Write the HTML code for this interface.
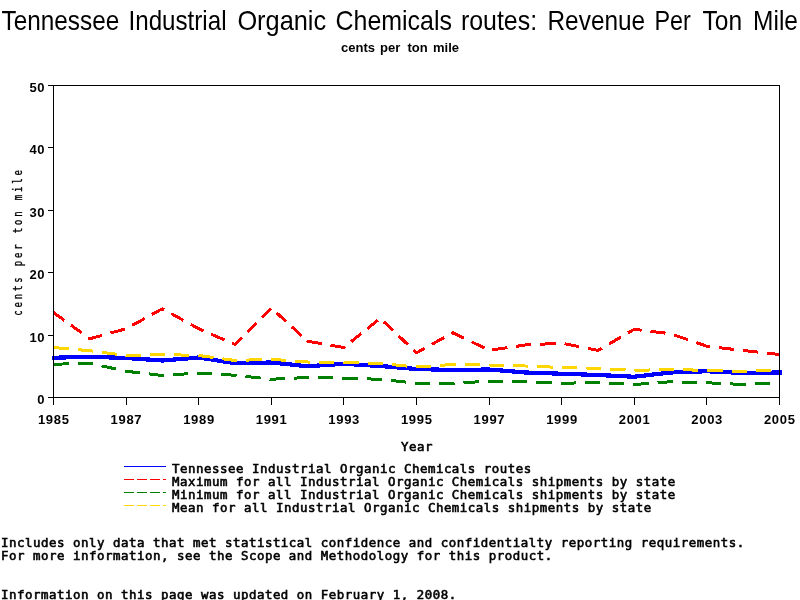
<!DOCTYPE html>
<html lang="en">
<head>
<meta charset="utf-8">
<title>Tennessee Industrial Organic Chemicals routes: Revenue Per Ton Mile</title>
<style>
html,body{margin:0;padding:0;background:#fff;}
body{width:800px;height:600px;overflow:hidden;position:relative;}
svg{position:absolute;left:0;top:0;display:block;will-change:transform;}
text{white-space:pre;}
.title{font-family:"Liberation Sans", "DejaVu Sans", sans-serif;font-size:27.2px;fill:#000;}
.sub{font-family:"Liberation Sans", "DejaVu Sans", sans-serif;font-size:13px;font-weight:bold;fill:#000;}
.tick{font-family:"Liberation Sans", "DejaVu Sans", sans-serif;font-size:13px;font-weight:bold;fill:#000;letter-spacing:0.7px;}
.mono{font-family:"DejaVu Sans Mono", "Liberation Mono", monospace;font-size:12.4px;font-weight:normal;fill:#000;stroke:#000;stroke-width:0.6px;letter-spacing:0.535px;}
.ylab{font-family:"DejaVu Sans Mono", "Liberation Mono", monospace;font-size:12.4px;font-weight:normal;fill:#000;letter-spacing:4.0px;stroke:#000;stroke-width:0.35px;}
.ax{stroke:#000;stroke-width:1;fill:none;shape-rendering:crispEdges;}
.ser{fill:none;stroke-linejoin:round;shape-rendering:crispEdges;}
</style>
</head>
<body>
<svg width="800" height="600" viewBox="0 0 800 600">
<rect x="0" y="0" width="800" height="600" fill="#ffffff"/>
<g class="title">
<text transform="translate(1.50,30) scale(0.8952,1)">Tennessee</text>
<text transform="translate(128.50,30) scale(0.8883,1)">Industrial</text>
<text transform="translate(237.40,30) scale(0.9326,1)">Organic</text>
<text transform="translate(335.50,30) scale(0.9181,1)">Chemicals</text>
<text transform="translate(460.90,30) scale(0.9160,1)">routes:</text>
<text transform="translate(547.50,30) scale(0.8975,1)">Revenue</text>
<text transform="translate(654.50,30) scale(0.8600,1)">Per</text>
<text transform="translate(702.50,30) scale(0.9024,1)">Ton</text>
<text transform="translate(753.10,30) scale(0.9003,1)">Mile</text>
</g>
<g class="sub">
<text x="341.00" y="52">cents</text>
<text x="380.00" y="52">per</text>
<text x="407.50" y="52">ton</text>
<text x="433.00" y="52">mile</text>
</g>
<polyline class="ser" stroke="#0000ff" stroke-width="4.2" points="51.50,357.75 53.50,357.75 89.80,356.75 126.10,358.00 162.40,360.50 198.70,357.50 235.00,363.25 271.30,362.50 307.60,366.25 343.90,363.75 380.20,366.00 416.50,369.00 452.80,370.00 489.10,369.50 525.40,372.50 561.70,373.75 598.00,375.00 634.30,376.75 670.60,372.50 706.90,371.25 743.20,373.00 779.50,372.50 781.50,372.50"/>
<path class="ser" stroke="#ff0000" stroke-width="3" d="M53.50 312.50 L64.44 320.41 M70.88 325.07 L81.82 332.98 M88.27 337.64 L89.80 338.75 L102.13 335.35 M110.57 333.03 L124.91 329.08 M132.31 325.33 L144.58 318.57 M151.80 314.59 L162.40 308.75 L164.07 309.67 M171.30 313.65 L183.57 320.41 M190.79 324.39 L198.70 328.75 L203.39 330.79 M211.16 334.16 L224.36 339.88 M232.13 343.26 L235.00 344.50 L242.10 337.37 M247.43 332.00 L256.50 322.88 M261.84 317.51 L270.90 308.40 M276.54 312.80 L286.15 321.61 M291.81 326.79 L301.43 335.60 M307.09 340.78 L307.60 341.25 L321.71 343.68 M330.48 345.19 L343.90 347.50 L344.93 346.67 M351.03 341.77 L361.38 333.44 M367.48 328.53 L377.84 320.20 M383.59 321.53 L392.97 330.47 M398.49 335.73 L407.87 344.67 M413.39 349.94 L416.50 352.90 L424.68 348.35 M431.88 344.34 L444.10 337.54 M451.30 333.53 L452.80 332.70 L464.03 338.14 M471.56 341.80 L484.36 348.00 M492.38 349.82 L507.39 347.63 M516.23 346.34 L525.40 345.00 L531.34 344.71 M540.33 344.26 L555.59 343.50 M564.49 343.75 L579.27 346.68 M587.97 348.41 L598.00 350.40 L601.87 348.15 M608.95 344.04 L620.98 337.04 M628.06 332.93 L634.30 329.30 L641.57 330.19 M650.46 331.28 L665.55 333.13 M674.13 334.97 L688.00 339.74 M696.17 342.55 L706.90 346.25 L710.32 346.65 M719.22 347.69 L734.33 349.46 M743.23 350.50 L758.36 352.17 M767.27 353.15 L779.50 354.50"/>
<path class="ser" stroke="#008000" stroke-width="3" d="M53.50 364.25 L68.79 363.83 M77.79 363.58 L89.80 363.25 L92.95 363.94 M101.58 365.85 L116.25 369.08 M124.88 370.98 L126.10 371.25 L139.96 372.87 M148.85 373.91 L162.40 375.50 L163.98 375.39 M172.95 374.77 L188.18 373.72 M197.16 373.11 L198.70 373.00 L212.40 373.85 M221.38 374.41 L235.00 375.25 L236.61 375.43 M245.53 376.41 L260.66 378.08 M269.57 379.06 L271.30 379.25 L284.82 378.60 M293.81 378.16 L307.60 377.50 L309.08 377.53 M318.09 377.72 L333.38 378.03 M342.39 378.22 L343.90 378.25 L357.68 378.63 M366.68 378.88 L380.20 379.25 L381.96 379.44 M390.87 380.43 L406.00 382.09 M414.91 383.07 L416.50 383.25 L430.19 383.25 M439.20 383.25 L452.80 383.25 L454.50 383.16 M463.48 382.66 L478.74 381.82 M487.73 381.33 L489.10 381.25 L503.02 381.35 M512.03 381.41 L525.40 381.50 L527.33 381.59 M536.32 382.03 L551.59 382.76 M560.58 383.20 L561.70 383.25 L575.87 382.96 M584.88 382.77 L598.00 382.50 L600.16 382.62 M609.15 383.11 L624.41 383.95 M633.39 384.45 L634.30 384.50 L648.62 383.42 M657.58 382.74 L670.60 381.75 L672.81 381.81 M681.81 382.06 L697.10 382.48 M706.11 382.73 L706.90 382.75 L721.37 383.45 M730.37 383.88 L743.20 384.50 L745.63 384.40 M754.63 384.03 L769.91 383.40 M778.90 383.02 L779.50 383.00"/>
<path class="ser" stroke="#ffd700" stroke-width="3" d="M53.50 347.50 L68.69 348.86 M77.63 349.66 L89.80 350.75 L92.80 351.14 M101.67 352.30 L116.74 354.27 M125.61 355.44 L126.10 355.50 L140.89 355.09 M149.89 354.84 L162.40 354.50 L165.18 354.58 M174.19 354.82 L189.48 355.25 M198.48 355.49 L198.70 355.50 L213.53 357.54 M222.38 358.76 L235.00 360.50 L237.46 360.42 M246.46 360.11 L261.75 359.58 M270.75 359.27 L271.30 359.25 L285.97 360.36 M294.93 361.04 L307.60 362.00 L310.17 362.04 M319.18 362.16 L334.47 362.37 M343.48 362.49 L343.90 362.50 L358.77 362.91 M367.77 363.16 L380.20 363.50 L383.04 363.77 M391.98 364.64 L407.15 366.10 M416.08 366.96 L416.50 367.00 L431.32 365.98 M440.29 365.36 L452.80 364.50 L455.53 364.54 M464.54 364.66 L479.84 364.87 M488.85 365.00 L489.10 365.00 L504.14 365.41 M513.14 365.66 L525.40 366.00 L528.43 366.13 M537.42 366.50 L552.70 367.13 M561.69 367.50 L561.70 367.50 L576.99 367.82 M585.99 368.00 L598.00 368.25 L601.28 368.45 M610.26 369.01 L625.50 369.95 M634.48 370.49 L649.77 369.97 M658.77 369.66 L670.60 369.25 L674.05 369.37 M683.05 369.68 L698.33 370.21 M707.33 370.51 L722.62 370.93 M731.63 371.18 L743.20 371.50 L746.91 371.35 M755.91 370.97 L771.19 370.34"/>
<rect class="ax" x="53.5" y="85.5" width="726.0" height="312.0"/>
<line class="ax" x1="48.0" y1="397.5" x2="53.5" y2="397.5"/>
<text class="tick" x="45.3" y="404.0" text-anchor="end">0</text>
<line class="ax" x1="48.0" y1="335.1" x2="53.5" y2="335.1"/>
<text class="tick" x="45.3" y="341.6" text-anchor="end">10</text>
<line class="ax" x1="48.0" y1="272.7" x2="53.5" y2="272.7"/>
<text class="tick" x="45.3" y="279.2" text-anchor="end">20</text>
<line class="ax" x1="48.0" y1="210.3" x2="53.5" y2="210.3"/>
<text class="tick" x="45.3" y="216.8" text-anchor="end">30</text>
<line class="ax" x1="48.0" y1="147.9" x2="53.5" y2="147.9"/>
<text class="tick" x="45.3" y="154.4" text-anchor="end">40</text>
<line class="ax" x1="48.0" y1="85.5" x2="53.5" y2="85.5"/>
<text class="tick" x="45.3" y="92.0" text-anchor="end">50</text>
<line class="ax" x1="53.5" y1="397.5" x2="53.5" y2="404.5"/>
<text class="tick" x="53.8" y="424" text-anchor="middle">1985</text>
<line class="ax" x1="126.1" y1="397.5" x2="126.1" y2="404.5"/>
<text class="tick" x="126.4" y="424" text-anchor="middle">1987</text>
<line class="ax" x1="198.7" y1="397.5" x2="198.7" y2="404.5"/>
<text class="tick" x="199.0" y="424" text-anchor="middle">1989</text>
<line class="ax" x1="271.3" y1="397.5" x2="271.3" y2="404.5"/>
<text class="tick" x="271.6" y="424" text-anchor="middle">1991</text>
<line class="ax" x1="343.9" y1="397.5" x2="343.9" y2="404.5"/>
<text class="tick" x="344.2" y="424" text-anchor="middle">1993</text>
<line class="ax" x1="416.5" y1="397.5" x2="416.5" y2="404.5"/>
<text class="tick" x="416.8" y="424" text-anchor="middle">1995</text>
<line class="ax" x1="489.1" y1="397.5" x2="489.1" y2="404.5"/>
<text class="tick" x="489.4" y="424" text-anchor="middle">1997</text>
<line class="ax" x1="561.7" y1="397.5" x2="561.7" y2="404.5"/>
<text class="tick" x="562.0" y="424" text-anchor="middle">1999</text>
<line class="ax" x1="634.3" y1="397.5" x2="634.3" y2="404.5"/>
<text class="tick" x="634.6" y="424" text-anchor="middle">2001</text>
<line class="ax" x1="706.9" y1="397.5" x2="706.9" y2="404.5"/>
<text class="tick" x="707.2" y="424" text-anchor="middle">2003</text>
<line class="ax" x1="779.5" y1="397.5" x2="779.5" y2="404.5"/>
<text class="tick" x="779.8" y="424" text-anchor="middle">2005</text>
<text class="ylab" transform="translate(22,315.7) rotate(-90) scale(0.72,1)">cents per ton mile</text>
<text class="mono" transform="translate(401,451) scale(1,0.925)">Year</text>
<line x1="124" y1="466.5" x2="165.6" y2="466.5" stroke="#0000ff" stroke-width="1" shape-rendering="crispEdges"/>
<text class="mono" transform="translate(172,473.0) scale(1,0.925)">Tennessee Industrial Organic Chemicals routes</text>
<line x1="124" y1="479.5" x2="165.6" y2="479.5" stroke="#ff0000" stroke-width="1" stroke-dasharray="10 3" shape-rendering="crispEdges"/>
<text class="mono" transform="translate(172,486.0) scale(1,0.925)">Maximum for all Industrial Organic Chemicals shipments by state</text>
<line x1="124" y1="492.5" x2="165.6" y2="492.5" stroke="#008000" stroke-width="1" stroke-dasharray="10 3" shape-rendering="crispEdges"/>
<text class="mono" transform="translate(172,499.0) scale(1,0.925)">Minimum for all Industrial Organic Chemicals shipments by state</text>
<line x1="124" y1="505.5" x2="165.6" y2="505.5" stroke="#ffd700" stroke-width="1" stroke-dasharray="10 3" shape-rendering="crispEdges"/>
<text class="mono" transform="translate(172,512.0) scale(1,0.925)">Mean for all Industrial Organic Chemicals shipments by state</text>
<text class="mono" transform="translate(1,547) scale(1,0.925)">Includes only data that met statistical confidence and confidentialty reporting requirements.</text>
<text class="mono" transform="translate(1,560) scale(1,0.925)">For more information, see the Scope and Methodology for this product.</text>
<text class="mono" transform="translate(1,599) scale(1,0.925)">Information on this page was updated on February 1, 2008.</text>
</svg>
</body>
</html>
